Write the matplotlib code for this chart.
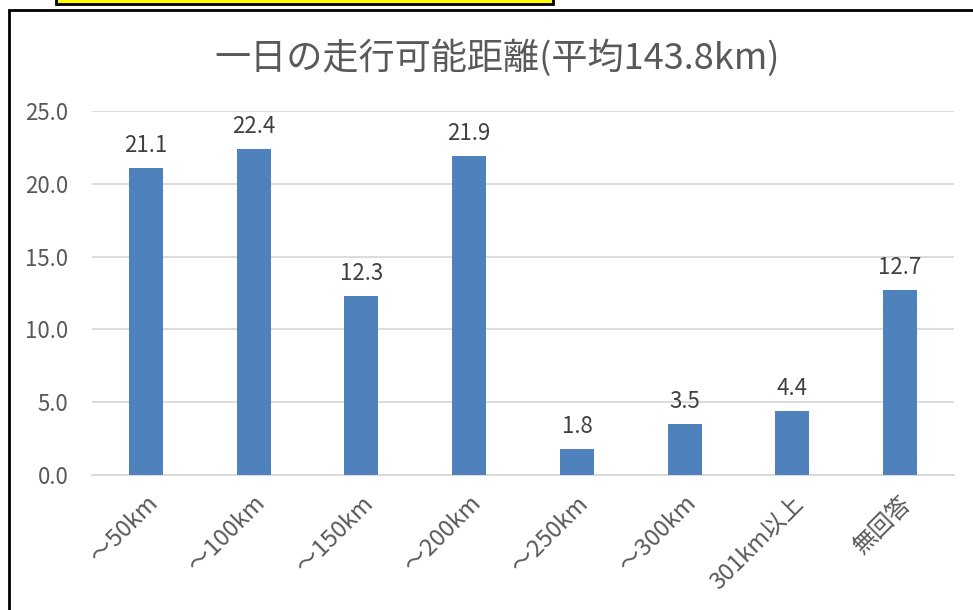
import matplotlib.pyplot as plt
from matplotlib.patches import Rectangle

plt.rcParams['font.family'] = ['Noto Sans CJK JP', 'DejaVu Sans']

# 一日の走行可能距離の回答割合(%)
categories = ['～50km', '～100km', '～150km', '～200km', '～250km', '～300km', '301km以上', '無回答']
values = [21.1, 22.4, 12.3, 21.9, 1.8, 3.5, 4.4, 12.7]
yticks = [0, 5, 10, 15, 20, 25]
title = '一日の走行可能距離(平均143.8km)'

W, H = 973, 610
text_color = '#595959'

fig = plt.figure(figsize=(W / 100, H / 100), dpi=100)
fig.patch.set_facecolor('white')

# 外枠と上部の黄色い見出し枠
fig.add_artist(Rectangle((8.5 / W, -0.1), 1.2, 1 - 10 / H + 0.1, transform=fig.transFigure,
                         fill=False, edgecolor='black', linewidth=2))
fig.add_artist(Rectangle((56 / W, 1 - 4 / H), (553 - 56) / W, 0.1, transform=fig.transFigure,
                         facecolor='#FFFF00', edgecolor='black', linewidth=2))

ax = fig.add_axes([92 / W, 1 - 475 / H, (954 - 92) / W, (475 - 111) / H])
x = range(len(categories))
ax.bar(x, values, width=0.315, color='#4F81BD', zorder=3)
ax.set_xlim(-0.5, len(categories) - 0.5)
ax.set_ylim(0, 25)
ax.set_yticks(yticks)
ax.set_yticklabels([f'{v:.1f}' for v in yticks], fontsize=16, color=text_color)
ax.set_xticks(list(x))
ax.set_xticklabels(categories, rotation=45, ha='right', va='top', rotation_mode='anchor',
                   fontsize=17, color=text_color)
ax.tick_params(axis='both', length=0)
ax.tick_params(axis='y', pad=17)
ax.tick_params(axis='x', pad=12)
ax.grid(axis='y', color='#D9D9D9', linewidth=1.3, zorder=0)
for side in ['top', 'right', 'left']:
    ax.spines[side].set_visible(False)
ax.spines['bottom'].set_color('#D9D9D9')
ax.spines['bottom'].set_linewidth(1.3)

for xi, v in zip(x, values):
    ax.annotate(f'{v:.1f}', (xi, v), xytext=(0, 8), textcoords='offset points',
                ha='center', va='bottom', fontsize=16, color='#404040')

fig.text(497 / W, 1 - 58 / H, title, ha='center', va='center', fontsize=26, color=text_color)

fig.savefig('out.png', dpi=100)
